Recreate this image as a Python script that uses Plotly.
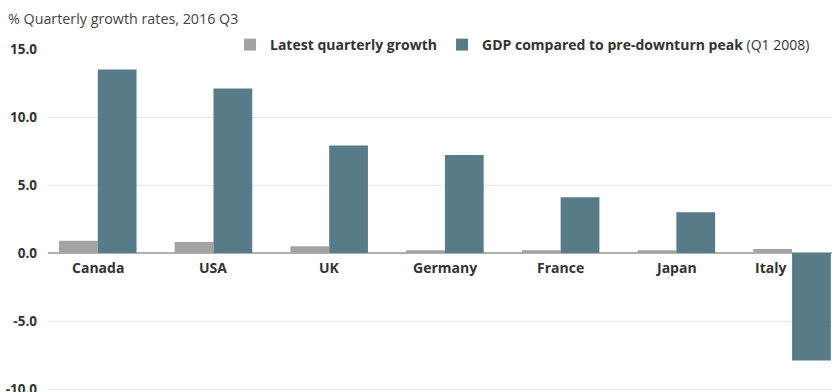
import plotly.graph_objects as go

countries = ["Canada", "USA", "UK", "Germany", "France", "Japan", "Italy"]
latest_growth = [0.9, 0.8, 0.5, 0.2, 0.2, 0.2, 0.3]
vs_peak = [13.5, 12.1, 7.9, 7.2, 4.1, 3.0, -7.9]
y_ticks = [-10, -5, 0, 5, 10, 15]

GREY = "#a3a3a3"
TEAL = "#587b88"
FONT = "Open Sans"

fig = go.Figure()
fig.add_trace(go.Bar(x=countries, y=latest_growth, name="<b>Latest quarterly growth</b>",
                     marker=dict(color=GREY, line=dict(width=0))))
fig.add_trace(go.Bar(x=countries, y=vs_peak,
                     name="<b>GDP compared to pre-downturn peak</b> (Q1 2008)",
                     marker=dict(color=TEAL, line=dict(width=0))))

# category labels sitting on the zero line
for c, v in zip(countries, vs_peak):
    fig.add_annotation(x=c, y=0, xref="x", yref="y", text=f"<b>{c}</b>",
                       showarrow=False, yanchor="top", yshift=-3,
                       xanchor="center" if v >= 0 else "right",
                       xshift=0 if v >= 0 else -4,
                       font=dict(family=FONT, size=14, color="#333333"))

Y_MIN, Y_MAX = -10.22, 15
TOP = 49
plot_h = 392 - TOP
zero_pos = (0 - Y_MIN) / (Y_MAX - Y_MIN)

fig.update_layout(
    width=832, height=392,
    margin=dict(l=48, r=0, t=TOP, b=0, autoexpand=False),
    plot_bgcolor="white", paper_bgcolor="white",
    barmode="group", bargap=0.33, bargroupgap=0,
    font=dict(family=FONT, size=14, color="#333333"),
    showlegend=True,
    legend=dict(orientation="h", x=(230 - 48) / 784, xanchor="left",
                y=1 + 4 / plot_h, yanchor="middle",
                font=dict(family=FONT, size=14, color="#333333"),
                itemwidth=30, traceorder="normal", bgcolor="rgba(0,0,0,0)"),
    annotations=list(fig.layout.annotations) + [
        dict(text="% Quarterly growth rates, 2016 Q3", xref="paper", yref="paper",
             x=-42/784, y=1 + 31/plot_h, xanchor="left", yanchor="middle", showarrow=False,
             font=dict(family=FONT, size=14.3, color="#444444"))
    ],
)
fig.update_xaxes(anchor="free", position=zero_pos, showline=True, linecolor="#b0b0b0",
                 linewidth=1.5, showticklabels=False, ticks="", showgrid=False,
                 range=[-0.43, 6.345], layer="below traces", automargin=False)
fig.update_yaxes(range=[Y_MIN, Y_MAX], tickvals=y_ticks,
                 ticktext=[f"<b>{v:.1f}</b>" for v in y_ticks],
                 showgrid=True, gridcolor="#e6e6e6", gridwidth=1, zeroline=False,
                 ticklabeloverflow="allow", automargin=False,
                 tickfont=dict(family=FONT, size=13.5, color="#333333"), ticklabelstandoff=10)

fig.write_html("out.html")
